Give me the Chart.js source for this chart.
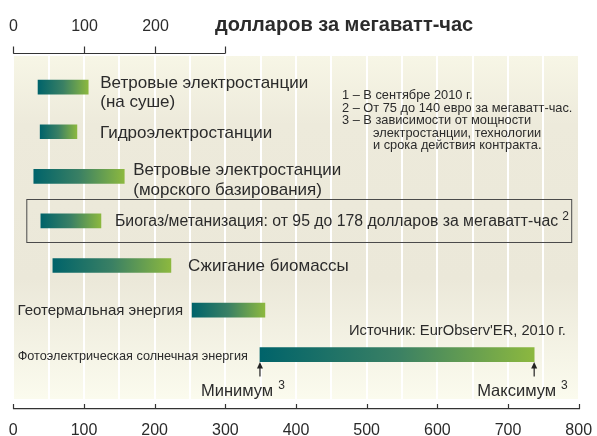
<!DOCTYPE html>
<html>
<head>
<meta charset="utf-8">
<script src="https://cdn.jsdelivr.net/npm/chart.js@4.4.1/dist/chart.umd.min.js"></script>
<style>
  html, body { margin: 0; padding: 0; background: #ffffff; }
  #wrap { width: 597px; height: 436px; position: relative; }
</style>
</head>
<body>
<div id="wrap"><canvas id="c" width="597" height="436"></canvas></div>
<script>
// ---- data ----
const categories = [
  ['Ветровые электростанции', '(на суше)'],
  ['Гидроэлектростанции'],
  ['Ветровые электростанции', '(морского базирования)'],
  ['Биогаз/метанизация: от 95 до 178 долларов за мегаватт-час'],
  ['Сжигание биомассы'],
  ['Геотермальная энергия'],
  ['Фотоэлектрическая солнечная энергия']
];
const minCost = [35, 38, 29, 39, 56, 253, 349];
const maxCost = [106, 90, 157, 124, 223, 356, 737];
const bottomTicks = [0, 100, 200, 300, 400, 500, 600, 700, 800];
const topTicks = [0, 100, 200, 300];
const topTickLabels = ['0', '100', '200', ''];
const unitTitle = 'долларов за мегаватт-час';
const notes = [
  '1 – В сентябре 2010 г.',
  '2 – От 75 до 140 евро за мегаватт-час.',
  '3 – В зависимости от мощности',
  'электростанции, технологии',
  'и срока действия контракта.'
];
const sourceText = 'Источник: EurObserv\'ER, 2010 г.';
const minLabel = 'Минимум';
const maxLabel = 'Максимум';

// ---- label styling (positions relative to bars) ----
const labelStyle = [
  { side: 'right', gap: 12, base: [1, 20], size: 17 },
  { side: 'right', gap: 23, base: [6], size: 17 },
  { side: 'right', gap: 9, base: [-1, 19], size: 17 },
  { side: 'right', gap: 14, base: [5], size: 15.8, sup: '2', box: true },
  { side: 'right', gap: 17, base: [6], size: 17 },
  { side: 'left', gap: 9, base: [5], size: 15 },
  { side: 'left', gap: 12, base: [5], size: 12.7 }
];

const FONT = '"Liberation Sans", Arial, sans-serif';
const TXT = '#2b2b2b';

const rows = categories.map((c, i) => i);
const barData = rows.map(i => ({ y: i, x: [minCost[i], maxCost[i]] }));

function barGradient(ctx) {
  const chart = ctx.chart;
  if (!chart.chartArea || ctx.type !== 'data') return '#3f8a5e';
  const xs = chart.scales.x;
  const i = ctx.dataIndex;
  const x0 = xs.getPixelForValue(minCost[i]);
  const x1 = xs.getPixelForValue(maxCost[i]);
  const g = chart.ctx.createLinearGradient(x0, 0, x1, 0);
  g.addColorStop(0, '#00636a');
  g.addColorStop(0.5, '#3a8064');
  g.addColorStop(1, '#8cb83f');
  return g;
}

const decorPlugin = {
  id: 'decor',
  beforeDraw(chart) {
    const { ctx, chartArea: a } = chart;
    ctx.save();
    const g = ctx.createLinearGradient(0, a.top, 0, a.bottom - 10);
    g.addColorStop(0, '#f7f6e6');
    g.addColorStop(0.2, '#edeadb');
    g.addColorStop(0.65, '#ebe8d9');
    g.addColorStop(1, '#fbfbee');
    ctx.fillStyle = g;
    ctx.fillRect(a.left, a.top, a.right - a.left, a.bottom - 10 - a.top);
    ctx.restore();
  },
  afterDraw(chart) {
    const { ctx, chartArea: a } = chart;
    const xs = chart.scales.x;
    const meta = chart.getDatasetMeta(0);
    ctx.save();
    ctx.strokeStyle = '#333';
    ctx.lineWidth = 1.2;
    // bottom axis ticks (upwards)
    bottomTicks.forEach(v => {
      const x = Math.round(xs.getPixelForValue(v)) + 0.5;
      ctx.beginPath();
      ctx.moveTo(x, a.bottom - 5);
      ctx.lineTo(x, a.bottom);
      ctx.stroke();
    });
    // top axis
    const ty = 53.5;
    ctx.beginPath();
    ctx.moveTo(xs.getPixelForValue(topTicks[0]), ty);
    ctx.lineTo(xs.getPixelForValue(topTicks[topTicks.length - 1]), ty);
    ctx.stroke();
    ctx.fillStyle = TXT;
    ctx.font = '16px ' + FONT;
    ctx.textAlign = 'center';
    ctx.textBaseline = 'alphabetic';
    topTicks.forEach((v, k) => {
      const x = Math.round(xs.getPixelForValue(v)) + 0.5;
      ctx.beginPath();
      ctx.moveTo(x, ty - 7);
      ctx.lineTo(x, ty);
      ctx.stroke();
      if (topTickLabels[k]) ctx.fillText(topTickLabels[k], x, 30.5);
    });
    ctx.textAlign = 'left';
    ctx.font = 'bold 20px ' + FONT;
    ctx.fillText(unitTitle, 215, 30.5);

    // bar labels
    meta.data.forEach((el, i) => {
      const st = labelStyle[i];
      const lines = categories[i];
      const left = Math.min(el.x, el.base), right = Math.max(el.x, el.base);
      ctx.font = st.size + 'px ' + FONT;
      ctx.fillStyle = TXT;
      lines.forEach((t, k) => {
        const y = el.y + st.base[k];
        if (st.side === 'right') {
          ctx.textAlign = 'left';
          ctx.fillText(t, right + st.gap, y);
          if (st.sup) {
            const w = ctx.measureText(t).width;
            ctx.font = '12px ' + FONT;
            ctx.fillText(st.sup, right + st.gap + w + 4, y - 6);
            ctx.font = st.size + 'px ' + FONT;
          }
        } else {
          ctx.textAlign = 'right';
          ctx.fillText(t, left - st.gap, y);
        }
      });
      if (st.box) {
        ctx.strokeStyle = '#4a4a4a';
        ctx.lineWidth = 1;
        ctx.strokeRect(a.left + 13.5, Math.round(el.y) - 21.5, a.right - a.left - 20.5, 43);
      }
    });

    // min / max arrows on last bar
    const last = meta.data[meta.data.length - 1];
    const lx = Math.min(last.x, last.base), rx = Math.max(last.x, last.base);
    const by = last.y + 7;
    [[lx, minLabel, -59], [rx, maxLabel, -57]].forEach(([x, t, dx]) => {
      ctx.strokeStyle = '#222';
      ctx.fillStyle = '#222';
      ctx.lineWidth = 1.2;
      ctx.beginPath();
      ctx.moveTo(x, by + 15);
      ctx.lineTo(x, by + 3);
      ctx.stroke();
      ctx.beginPath();
      ctx.moveTo(x, by + 0.5);
      ctx.lineTo(x - 3, by + 7);
      ctx.lineTo(x + 3, by + 7);
      ctx.closePath();
      ctx.fill();
      ctx.fillStyle = TXT;
      ctx.font = '16.5px ' + FONT;
      ctx.textAlign = 'left';
      const w = ctx.measureText(t).width;
      const x0 = x + dx;
      ctx.fillText(t, x0, 396);
      ctx.font = '12px ' + FONT;
      ctx.fillText('3', x0 + w + 5, 389);
    });

    // source
    ctx.font = '14.7px ' + FONT;
    ctx.textAlign = 'left';
    ctx.fillStyle = TXT;
    ctx.fillText(sourceText, 349, 335);

    // notes
    ctx.font = '12.8px ' + FONT;
    notes.forEach((t, k) => {
      const x = k < 3 ? 342 : 373;
      ctx.fillText(t, x, 99 + k * 12.5);
    });
    ctx.restore();
  }
};

new Chart(document.getElementById('c'), {
  type: 'bar',
  data: {
    datasets: [{
      data: barData,
      backgroundColor: barGradient,
      borderWidth: 0,
      barThickness: 14
    }]
  },
  options: {
    indexAxis: 'y',
    responsive: false,
    animation: false,
    layout: { autoPadding: false, padding: { left: 13.3, right: 18.3, top: 56, bottom: 0 } },
    plugins: { legend: { display: false }, tooltip: { enabled: false } },
    scales: {
      x: {
        type: 'linear',
        position: 'bottom',
        min: 0,
        max: 800,
        afterFit: s => { s.height = 27; s.paddingLeft = 0; s.paddingRight = 0; },
        ticks: {
          stepSize: 50,
          autoSkip: false,
          maxRotation: 0,
          padding: 14,
          color: TXT,
          font: { size: 16, family: FONT, lineHeight: 1 },
          callback: v => (bottomTicks.includes(v) ? String(v) : '')
        },
        grid: { color: '#ffffff', lineWidth: 2, drawTicks: false },
        border: { display: true, color: '#333', width: 1.2 }
      },
      y: {
        type: 'linear',
        reverse: true,
        offset: false,
        min: -0.7,
        max: 7.22,
        display: false
      }
    }
  },
  plugins: [decorPlugin]
});
</script>
</body>
</html>
